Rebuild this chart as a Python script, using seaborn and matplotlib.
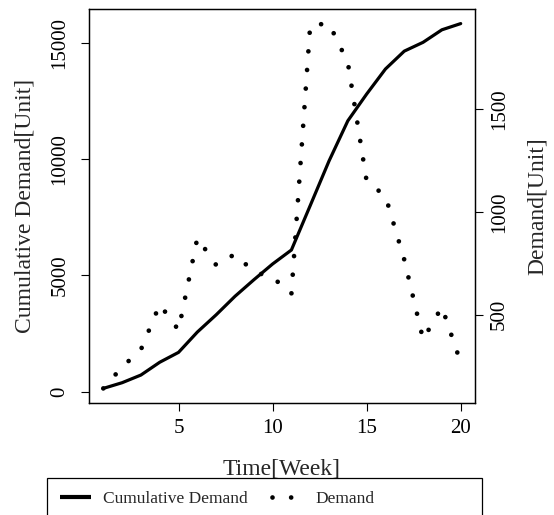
import matplotlib
matplotlib.use("Agg")
import matplotlib.pyplot as plt
from matplotlib.lines import Line2D
from matplotlib.patches import Rectangle
import numpy as np
import pandas as pd
import seaborn as sns

# weekly data
weeks = list(range(1, 21))
demand = [141, 245, 330, 550, 425, 874, 742, 795, 709, 682,
          602, 1911, 1918, 1728, 1150, 1078, 768, 380, 538, 267]
cumulative = [141, 386, 716, 1266, 1691, 2565, 3307, 4102, 4811, 5493,
              6095, 8006, 9924, 11652, 12802, 13880, 14648, 15028, 15566, 15833]

x_ticks = [5, 10, 15, 20]
left_ticks = [0, 5000, 10000, 15000]
right_ticks = [500, 1000, 1500]

df = pd.DataFrame({"week": weeks, "demand": demand, "cumulative": cumulative})

sns.set_theme(style="ticks")
plt.rcParams["font.family"] = ["Liberation Serif", "DejaVu Serif"]

W, H = 554, 515
fig = plt.figure(figsize=(W / 100, H / 100), dpi=100)
ax = fig.add_axes([89 / W, 1 - 403 / H, (475 - 89) / W, (403 - 9) / H])
ax2 = ax.twinx()

sns.lineplot(data=df, x="week", y="cumulative", ax=ax, color="black",
             linewidth=2.3, legend=False)
# R-style lty=3 dotted line: round dots, evenly spaced along the path
dot_style = (0, (0.001, 3.95))
sns.lineplot(data=df, x="week", y="demand", ax=ax2, color="black",
             linewidth=3.4, linestyle=dot_style, dash_capstyle="round",
             legend=False)

for a in (ax, ax2):
    a.margins(x=0.04, y=0.04)
    for s in a.spines.values():
        s.set_linewidth(0.9)
        s.set_color("black")
        s.set_visible(True)
    a.set_xlabel("")
    a.set_ylabel("")

ax.set_xticks(x_ticks)
ax.set_yticks(left_ticks)
ax2.set_yticks(right_ticks)

tick_kw = dict(length=5.5, width=0.8, color="black", labelsize=15, labelcolor="black")
ax.tick_params(axis="x", pad=13, **tick_kw)
ax.tick_params(axis="y", pad=15.5, labelrotation=90, **tick_kw)
ax2.tick_params(axis="y", pad=12, labelrotation=90, **tick_kw)
for lab in ax.get_xticklabels():
    lab.set_va("center")
for lab in ax.get_yticklabels() + ax2.get_yticklabels():
    lab.set_ha("center")
    lab.set_va("center")

ax.set_xlabel("Time[Week]", fontsize=17, va="center")
ax.xaxis.set_label_coords(0.5, (403 - 469) / 394)
ax.set_ylabel("Cumulative Demand[Unit]", fontsize=17, va="center")
ax.yaxis.set_label_coords((25 - 89) / 386, 0.5)
ax2.set_ylabel("Demand[Unit]", fontsize=17, va="center", rotation=90)
ax2.yaxis.set_label_coords((537 - 89) / 386, 0.5)

handles = [
    Line2D([], [], color="black", linewidth=3.0, solid_capstyle="butt"),
    Line2D([], [], color="black", linewidth=3.4, linestyle=dot_style,
           dash_capstyle="round"),
]
fig.legend(handles, ["Cumulative Demand", "Demand"], ncol=2, frameon=False,
           loc="center left", bbox_to_anchor=(60 / W, 1 - 499 / H),
           fontsize=12.5, handlelength=1.8, handletextpad=0.7,
           columnspacing=1.4, borderpad=0, borderaxespad=0)
fig.add_artist(Rectangle((47 / W, -0.05), (482 - 47) / W, 0.05 + 1 - 478 / H,
                         transform=fig.transFigure, fill=False,
                         edgecolor="black", linewidth=0.9))

fig.savefig("out.png", dpi=100)
